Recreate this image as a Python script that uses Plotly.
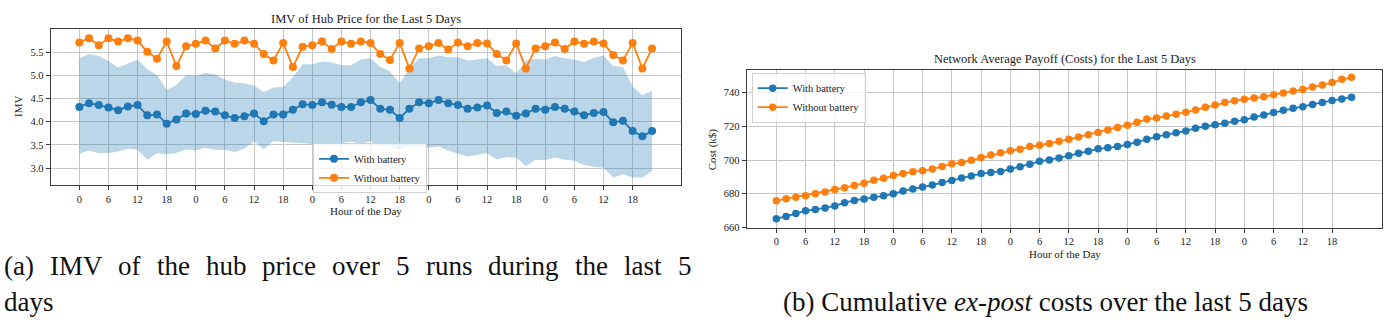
import plotly.graph_objects as go

W, H = 1392, 333

# ---------------- data ----------------
days = 5
hours = [h for d in range(days) for h in range(0, 24, 2)]
idx = list(range(len(hours)))

imv_with = [4.32, 4.40, 4.36, 4.31, 4.25, 4.33, 4.36, 4.14, 4.16, 3.96, 4.05, 4.18,
            4.17, 4.24, 4.22, 4.14, 4.08, 4.12, 4.18, 4.01, 4.16, 4.16, 4.26, 4.38,
            4.36, 4.42, 4.37, 4.32, 4.32, 4.42, 4.47, 4.28, 4.26, 4.08, 4.28, 4.42,
            4.40, 4.47, 4.40, 4.36, 4.28, 4.31, 4.35, 4.19, 4.22, 4.13, 4.18, 4.28,
            4.26, 4.32, 4.28, 4.22, 4.14, 4.19, 4.21, 3.99, 4.02, 3.80, 3.69, 3.80]
imv_without = [5.71, 5.80, 5.65, 5.80, 5.73, 5.80, 5.75, 5.51, 5.36, 5.73, 5.20, 5.63,
               5.68, 5.75, 5.58, 5.75, 5.68, 5.75, 5.68, 5.46, 5.32, 5.70, 5.18, 5.62,
               5.65, 5.73, 5.57, 5.73, 5.68, 5.73, 5.70, 5.46, 5.33, 5.70, 5.15, 5.58,
               5.63, 5.70, 5.56, 5.71, 5.63, 5.70, 5.69, 5.46, 5.32, 5.69, 5.15, 5.58,
               5.63, 5.71, 5.57, 5.73, 5.68, 5.73, 5.69, 5.44, 5.32, 5.70, 5.15, 5.58]
imv_upper = [5.37, 5.46, 5.42, 5.31, 5.17, 5.25, 5.34, 5.13, 5.01, 4.69, 4.79, 5.01,
             4.99, 5.05, 5.02, 4.91, 4.84, 4.83, 4.78, 4.64, 4.74, 4.75, 4.96, 5.24,
             5.24, 5.30, 5.28, 5.22, 5.22, 5.34, 5.37, 5.18, 5.09, 4.83, 5.15, 5.37,
             5.37, 5.43, 5.39, 5.39, 5.32, 5.34, 5.37, 5.20, 5.22, 5.04, 5.32, 5.36,
             5.34, 5.42, 5.37, 5.34, 5.29, 5.38, 5.43, 5.20, 5.18, 4.76, 4.57, 4.67]
imv_lower = [3.31, 3.38, 3.32, 3.33, 3.36, 3.42, 3.40, 3.18, 3.32, 3.30, 3.33, 3.41,
             3.38, 3.44, 3.40, 3.39, 3.35, 3.42, 3.58, 3.41, 3.58, 3.57, 3.55, 3.54,
             3.52, 3.55, 3.52, 3.54, 3.57, 3.52, 3.58, 3.47, 3.46, 3.40, 3.47, 3.46,
             3.44, 3.47, 3.38, 3.31, 3.25, 3.28, 3.32, 3.19, 3.24, 3.23, 3.04, 3.18,
             3.17, 3.23, 3.18, 3.16, 3.07, 3.03, 3.01, 2.80, 2.87, 2.80, 2.80, 2.94]

cost_with = [665.2, 666.6, 668.3, 669.9, 670.7, 671.6, 672.8, 674.7, 676.1, 676.9, 678.0, 678.8,
             680.0, 681.7, 682.9, 684.0, 685.2, 686.7, 687.9, 689.4, 690.6, 692.0, 692.7, 693.3,
             694.7, 696.0, 697.6, 699.3, 700.1, 701.3, 702.6, 704.0, 705.3, 706.7, 707.3, 708.0,
             709.2, 710.6, 712.3, 713.9, 715.0, 716.2, 717.3, 718.9, 720.0, 721.0, 721.8, 723.0,
             723.9, 725.5, 726.8, 728.2, 729.5, 730.7, 731.7, 733.0, 734.2, 735.4, 736.3, 737.3]
cost_without = [675.9, 677.0, 678.0, 678.8, 680.0, 681.1, 682.5, 683.6, 685.0, 686.3, 688.1, 689.2,
                690.8, 692.0, 693.1, 693.7, 694.7, 696.2, 697.8, 698.5, 699.9, 701.5, 703.0, 704.4,
                705.5, 706.5, 708.0, 708.8, 709.8, 711.1, 712.3, 713.7, 715.0, 716.4, 717.9, 719.3,
                720.6, 722.4, 724.3, 724.9, 726.1, 727.2, 728.4, 729.7, 731.3, 732.6, 734.2, 735.2,
                736.1, 736.9, 737.5, 738.8, 739.8, 741.0, 741.9, 743.3, 744.5, 746.0, 747.9, 749.1]

imv_yticks = [3.0, 3.5, 4.0, 4.5, 5.0, 5.5]
cost_yticks = [660, 680, 700, 720, 740]
xtick_pos = [i for i in idx if hours[i] % 6 == 0]
xtick_txt = [str(hours[i]) for i in xtick_pos]

series_names = ["With battery", "Without battery"]

# ---------------- style ----------------
BLUE = "#1f77b4"
ORANGE = "#ff7f0e"
FONT = "Liberation Serif"
GRID = "#c6c6c6"
SPINE = "#3a3a3a"


def px(x):
    return x / W


def py(y):
    return 1 - y / H


fig = go.Figure()

# band
fig.add_trace(go.Scatter(
    x=idx + idx[::-1], y=imv_upper + imv_lower[::-1],
    fill="toself", fillcolor="rgba(31,119,180,0.3)", mode="lines",
    line=dict(width=0), showlegend=False, hoverinfo="skip",
    xaxis="x", yaxis="y"))

for yv, col, nm in [(imv_with, BLUE, series_names[0]), (imv_without, ORANGE, series_names[1])]:
    fig.add_trace(go.Scatter(
        x=idx, y=yv, mode="lines+markers", name=nm,
        line=dict(color=col, width=1.8), marker=dict(color=col, size=8),
        xaxis="x", yaxis="y", legend="legend"))

for yv, col, nm in [(cost_with, BLUE, series_names[0]), (cost_without, ORANGE, series_names[1])]:
    fig.add_trace(go.Scatter(
        x=idx, y=yv, mode="lines+markers", name=nm,
        line=dict(color=col, width=1.8), marker=dict(color=col, size=7.5),
        xaxis="x2", yaxis="y2", legend="legend2"))

axis_common = dict(
    showgrid=True, gridcolor=GRID, gridwidth=1,
    showline=True, mirror=True, linecolor=SPINE, linewidth=1,
    ticks="outside", ticklen=4, tickcolor=SPINE, tickwidth=1,
    zeroline=False, tickfont=dict(family=FONT, size=10.5, color="#222"),
)

fig.update_layout(
    width=W, height=H,
    margin=dict(l=0, r=0, t=0, b=0),
    paper_bgcolor="white", plot_bgcolor="white",
    xaxis=dict(domain=[px(50.7), px(680.7)], range=[-2.95, 61.95], anchor="y",
               tickmode="array", tickvals=xtick_pos, ticktext=xtick_txt, **axis_common),
    yaxis=dict(domain=[py(188.3), py(30)], range=[2.64, 5.99], anchor="x",
               tickmode="array", tickvals=imv_yticks, ticktext=[f"{v:.1f}" for v in imv_yticks],
               **axis_common),
    xaxis2=dict(domain=[px(746.7), px(1382.3)], range=[-3.04, 62.15], anchor="y2",
                tickmode="array", tickvals=xtick_pos, ticktext=xtick_txt, **axis_common),
    yaxis2=dict(domain=[py(231.7), py(71)], range=[660.0, 753.6], anchor="x2",
                tickmode="array", tickvals=cost_yticks, ticktext=[str(v) for v in cost_yticks],
                **axis_common),
    legend=dict(x=px(313), y=py(146), xanchor="left", yanchor="top",
                bgcolor="rgba(255,255,255,0.8)", bordercolor="#d0d0d0", borderwidth=1,
                font=dict(family=FONT, size=10.5, color="#222"), itemwidth=30,
                tracegroupgap=0),
    legend2=dict(x=px(751.7), y=py(74), xanchor="left", yanchor="top",
                 bgcolor="rgba(255,255,255,0.8)", bordercolor="#d0d0d0", borderwidth=1,
                 font=dict(family=FONT, size=10.5, color="#222"), itemwidth=30,
                 tracegroupgap=0),
    showlegend=True,
)

ann = []


def add_text(text, x, y, size, xanchor="center", yanchor="middle", angle=0, family=FONT, color="#222"):
    ann.append(dict(text=text, x=px(x), y=py(y), xref="paper", yref="paper",
                    xanchor=xanchor, yanchor=yanchor, textangle=angle, showarrow=False,
                    borderpad=0, font=dict(family=family, size=size, color=color)))


# titles and axis labels
add_text("IMV of Hub Price for the Last 5 Days", 365.7, 19, 12.5)
add_text("Network Average Payoff (Costs) for the Last 5 Days", 1064.5, 60, 12.5)
add_text("IMV", 18, 109, 11, angle=-90)
add_text("Cost (k$)", 712, 152, 11, angle=-90)
add_text("Hour of the Day", 365.7, 215, 11)
add_text("Hour of the Day", 1064.5, 259, 11)

# captions (justified first line for (a))
TIMES = {' ': 250, '(': 333, ')': 333, 'a': 444, 'b': 500, 'c': 444, 'd': 500, 'e': 444,
         'f': 333, 'g': 500, 'h': 500, 'i': 278, 'l': 278, 'n': 500, 'o': 500, 'p': 500,
         'r': 333, 's': 389, 't': 278, 'u': 500, 'v': 500, 'y': 500, '5': 500, 'I': 333,
         'M': 889, 'V': 722}
CAP = 27
cap_a_words = "(a) IMV of the hub price over 5 runs during the last 5".split(" ")
widths = [sum(TIMES[c] for c in w) / 1000 * CAP for w in cap_a_words]
left, right = 3.0, 690.0
gap = (right - left - sum(widths)) / (len(cap_a_words) - 1)
xcur = left
for w, wd in zip(cap_a_words, widths):
    add_text(w, xcur, 271, CAP, xanchor="left", color="#111")
    xcur += wd + gap
add_text("days", 3, 308, CAP, xanchor="left", color="#111")
add_text("(b) Cumulative <i>ex-post</i> costs over the last 5 days", 1045, 308, CAP, color="#111")

fig.update_layout(annotations=ann)

fig.write_html("out.html")
